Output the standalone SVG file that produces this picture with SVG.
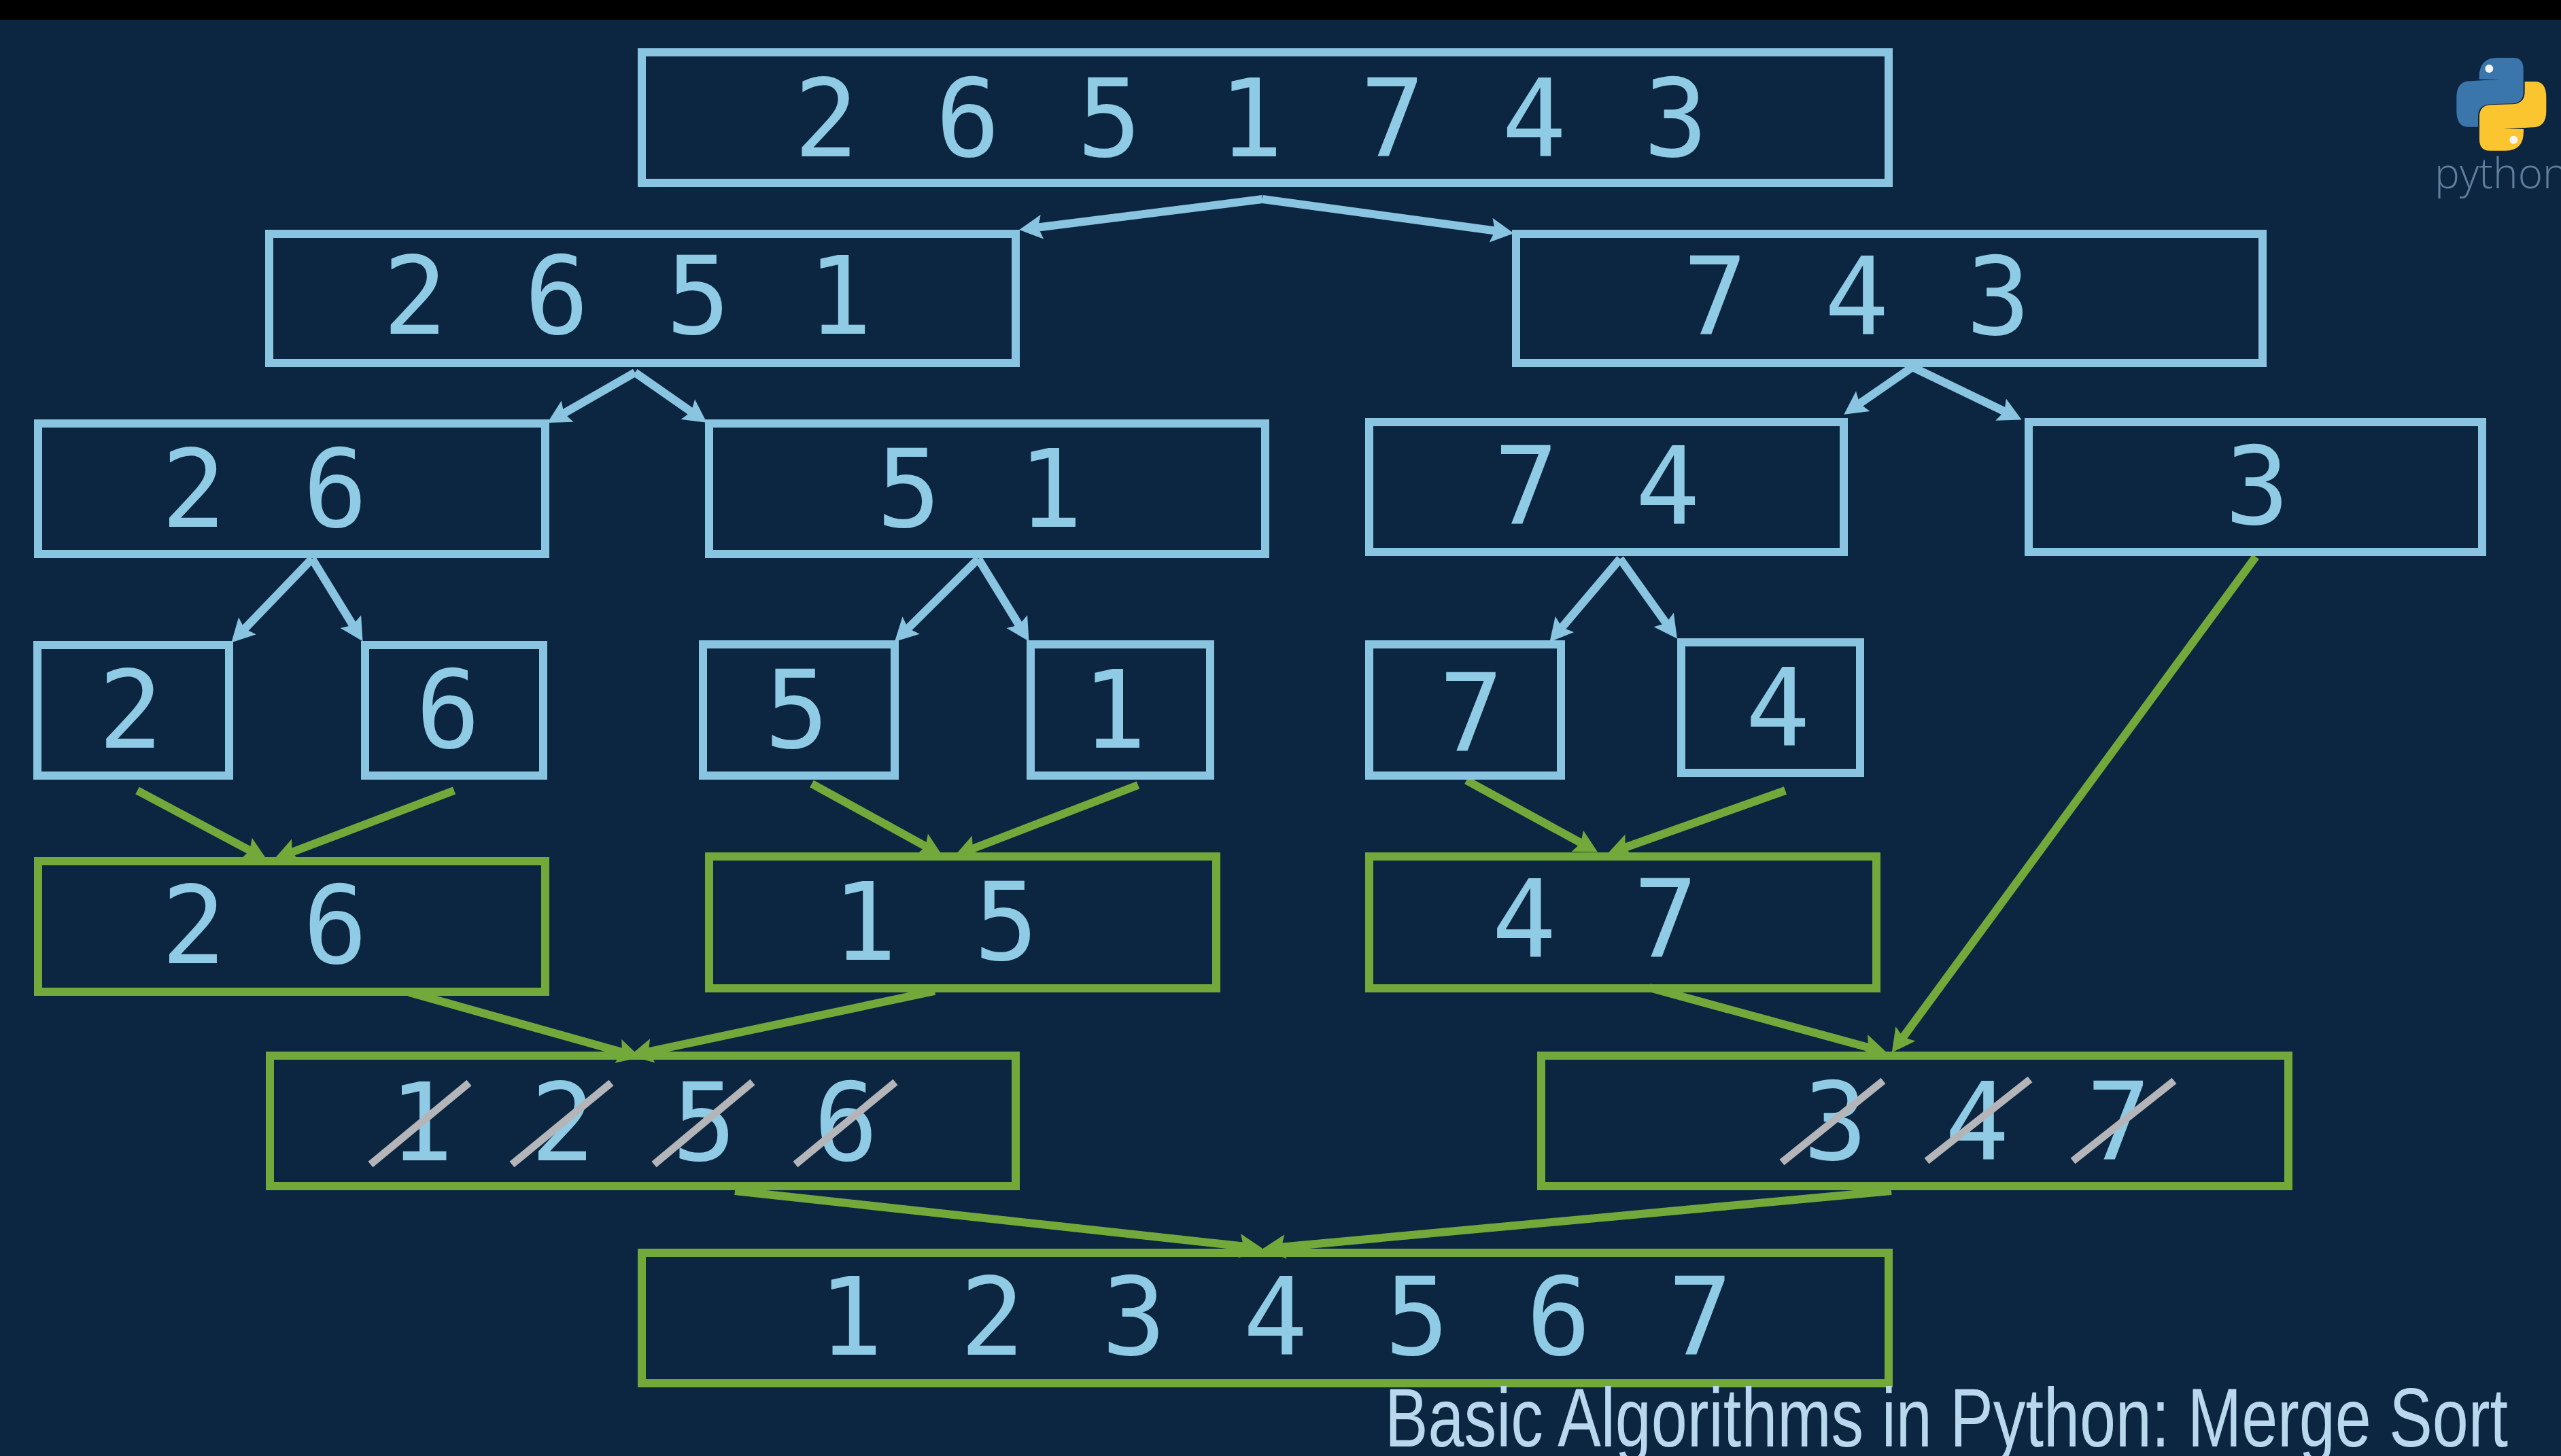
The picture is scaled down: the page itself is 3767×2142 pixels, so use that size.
<svg xmlns="http://www.w3.org/2000/svg" width="3767" height="2142" viewBox="0 0 3767 2142">
<style>
.b{fill:none;stroke:#89c4e0;stroke-width:12}
.g{fill:none;stroke:#72a93a;stroke-width:12}
.d{font-family:"DejaVu Sans Mono","Liberation Mono",monospace;font-size:158px;fill:#8fcbe4;text-anchor:middle;word-spacing:18px}
.ab{fill:none;stroke:#89c4e0;stroke-width:12;marker-end:url(#mb)}
.ag{fill:none;stroke:#72a93a;stroke-width:12;marker-end:url(#mg)}
.s{stroke:#b4b5b9;stroke-width:11}
</style>
<defs>
<marker id="mb" markerUnits="userSpaceOnUse" viewBox="-12 -20 38 40" refX="0" refY="0" markerWidth="38" markerHeight="40" orient="auto"><path d="M24 0L-10 -18L-4 0L-10 18Z" fill="#89c4e0"/></marker>
<marker id="mg" markerUnits="userSpaceOnUse" viewBox="-12 -20 38 40" refX="0" refY="0" markerWidth="38" markerHeight="40" orient="auto"><path d="M24 0L-10 -18L-4 0L-10 18Z" fill="#72a93a"/></marker>
<path id="snake" d="M440 340Q440 255 520 255L590 255Q635 255 635 305L635 405Q635 455 585 457L490 460Q435 462 435 515L435 560L390 560Q340 560 340 490L340 430Q340 358 400 358L530 350L440 350Z"/>
</defs>
<rect width="3767" height="2142" fill="#0c2540"/>
<rect width="3767" height="29" fill="#000"/>
<g id="connectors">
<path class="ab" d="M1857 293L1523 335"/><path class="ab" d="M1857 293L2203 340"/>
<path class="ab" d="M934 548L826 610"/><path class="ab" d="M934 548L1020 608"/>
<path class="ab" d="M2813 540L2732 596"/><path class="ab" d="M2813 540L2952 607"/>
<path class="ab" d="M459 822L357 928"/><path class="ab" d="M459 822L521 923"/>
<path class="ab" d="M1439 822L1333 927"/><path class="ab" d="M1439 822L1501 923"/>
<path class="ab" d="M2383 822L2295 926"/><path class="ab" d="M2383 822L2453 920"/>
<path class="ag" d="M202 1163L371 1253"/><path class="ag" d="M668 1163L426 1255"/>
<path class="ag" d="M1194 1153L1365 1247"/><path class="ag" d="M1674 1155L1427 1250"/>
<path class="ag" d="M2157 1148L2329 1242"/><path class="ag" d="M2626 1163L2387 1248"/>
<path class="ag" d="M602 1460L919 1549"/><path class="ag" d="M1375 1458L950 1548"/>
<path class="ag" d="M2426 1453L2752 1542"/><path class="ag" d="M3318 819L2797 1529"/>
<path class="ag" d="M1081 1752L1833 1834"/><path class="ag" d="M2782 1752L1881 1835"/>
</g>
<g id="n-all"><rect class="b" x="944" y="77" width="1834" height="192"/><text class="d" x="1840" y="230">2 6 5 1 7 4 3</text></g>
<g id="n-2651"><rect class="b" x="396" y="344" width="1098" height="190"/><text class="d" x="923" y="491">2 6 5 1</text></g>
<g id="n-743"><rect class="b" x="2230" y="344" width="1098" height="190"/><text class="d" x="2731" y="492">7 4 3</text></g>
<g id="n-26"><rect class="b" x="56" y="623" width="746" height="192"/><text class="d" x="389" y="775">2 6</text></g>
<g id="n-51"><rect class="b" x="1043" y="623" width="818" height="192"/><text class="d" x="1441" y="775">5 1</text></g>
<g id="n-74"><rect class="b" x="2014" y="621" width="698" height="191"/><text class="d" x="2349" y="771">7 4</text></g>
<g id="n-3"><rect class="b" x="2984" y="621" width="667" height="191"/><text class="d" x="3320" y="771">3</text></g>
<g id="n-2"><rect class="b" x="55" y="949" width="282" height="192"/><text class="d" x="192" y="1100">2</text></g>
<g id="n-6"><rect class="b" x="537" y="949" width="262" height="192"/><text class="d" x="659" y="1100">6</text></g>
<g id="n-5"><rect class="b" x="1034" y="948" width="282" height="193"/><text class="d" x="1172" y="1100">5</text></g>
<g id="n-1"><rect class="b" x="1516" y="948" width="264" height="193"/><text class="d" x="1639" y="1100">1</text></g>
<g id="n-7"><rect class="b" x="2014" y="948" width="282" height="193"/><text class="d" x="2164" y="1105">7</text></g>
<g id="n-4"><rect class="b" x="2473" y="945" width="263" height="192"/><text class="d" x="2615" y="1097">4</text></g>
<g id="m-26"><rect class="g" x="56" y="1267" width="746" height="192"/><text class="d" x="389" y="1417">2 6</text></g>
<g id="m-15"><rect class="g" x="1043" y="1260" width="746" height="194"/><text class="d" x="1376" y="1412">1 5</text></g>
<g id="m-47"><rect class="g" x="2014" y="1260" width="746" height="194"/><text class="d" x="2346" y="1408">4 7</text></g>
<g id="m-1256"><rect class="g" x="397" y="1553" width="1097" height="192"/><text class="d" x="932" y="1707">1 2 5 6</text>
<path class="s" d="M545 1713L690 1593M753 1713L899 1593M962 1713L1107 1592M1170 1713L1317 1592"/></g>
<g id="m-347"><rect class="g" x="2267" y="1553" width="1099" height="192"/><text class="d" x="2908" y="1706">3 4 7</text>
<path class="s" d="M2621 1710L2770 1590M2834 1708L2986 1588M3049 1708L3198 1590"/></g>
<g id="m-all"><rect class="g" x="944" y="1843" width="1834" height="192"/><text class="d" x="1876" y="1993">1 2 3 4 5 6 7</text></g>
<text x="2037" y="2128" font-family="'Liberation Sans',Roboto,sans-serif" font-size="122" fill="#b9d8ee" textLength="1652" lengthAdjust="spacingAndGlyphs">Basic Algorithms in Python: Merge Sort</text>
<g id="logo" transform="translate(3500 0) scale(.33333)">
<use href="#snake" fill="#3a76ab"/>
<use href="#snake" fill="#fbc52f" transform="rotate(180 538 460)"/>
<circle cx="484" cy="303" r="18" fill="#f4f6f8"/>
<circle cx="592" cy="617" r="18" fill="#f4f6f8"/>
</g>
<text x="3581" y="277" font-family="'Open Sans','Liberation Sans',sans-serif" font-weight="300" font-size="62" fill="#5f7f9b">python</text>
</svg>
